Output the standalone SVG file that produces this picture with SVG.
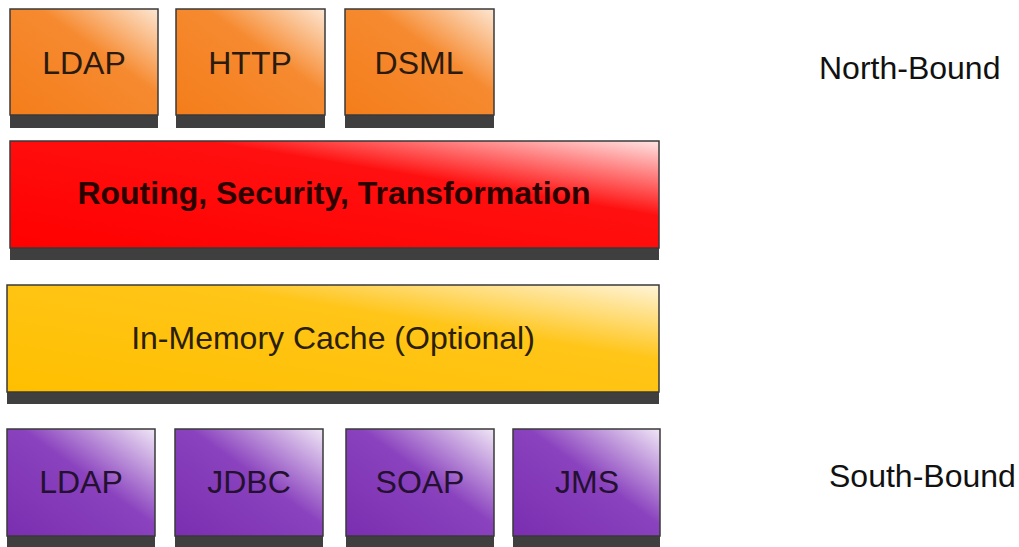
<svg xmlns="http://www.w3.org/2000/svg" width="1019" height="547" viewBox="0 0 1019 547">
<defs>
<linearGradient id="gO" x1="0" y1="1" x2="1" y2="0">
<stop offset="0" stop-color="#f47d1a"/><stop offset="0.6" stop-color="#f68a30"/><stop offset="1" stop-color="#fde6d2"/>
</linearGradient>
<linearGradient id="gR" x1="0" y1="1" x2="1" y2="0">
<stop offset="0" stop-color="#ff0000"/><stop offset="0.65" stop-color="#ff1010"/><stop offset="1" stop-color="#ffe4e4"/>
</linearGradient>
<linearGradient id="gY" x1="0" y1="1" x2="1" y2="0">
<stop offset="0" stop-color="#ffbf00"/><stop offset="0.65" stop-color="#ffc518"/><stop offset="1" stop-color="#fff4d8"/>
</linearGradient>
<linearGradient id="gP" x1="0" y1="1" x2="1" y2="0">
<stop offset="0" stop-color="#7a2eb0"/><stop offset="0.55" stop-color="#8a42be"/><stop offset="1" stop-color="#f0e6f6"/>
</linearGradient>
</defs>
<style>
.sh{fill:#3f3f3f}
.bx{stroke:#3a3a3a;stroke-width:1.5}
.t{font-family:"Liberation Sans",Arial,sans-serif;font-size:32px;text-anchor:middle;fill:#2a1a10}
.tb{font-family:"Liberation Sans",Arial,sans-serif;font-size:32px;font-weight:bold;text-anchor:middle;fill:#2a0000}
.tc{font-family:"Liberation Sans",Arial,sans-serif;font-size:32px;text-anchor:middle;fill:#2a2000}
.tp{font-family:"Liberation Sans",Arial,sans-serif;font-size:32px;text-anchor:middle;fill:#241030}
.lab{font-family:"Liberation Sans",Arial,sans-serif;font-size:32px;fill:#111}
</style>
<g id="nb-ldap"><rect class="sh" x="10" y="112" width="148" height="16"/><rect class="bx" x="10" y="9" width="148" height="106" fill="url(#gO)"/><text class="t" x="84" y="74">LDAP</text></g>
<g id="nb-http"><rect class="sh" x="176" y="112" width="149" height="16"/><rect class="bx" x="176" y="9" width="149" height="106" fill="url(#gO)"/><text class="t" x="250" y="74">HTTP</text></g>
<g id="nb-dsml"><rect class="sh" x="345" y="112" width="149" height="16"/><rect class="bx" x="345" y="9" width="149" height="106" fill="url(#gO)"/><text class="t" x="419" y="74">DSML</text></g>
<g id="routing"><rect class="sh" x="10" y="244" width="649" height="16"/><rect class="bx" x="10" y="141" width="649" height="107" fill="url(#gR)"/><text class="tb" x="334" y="204">Routing, Security, Transformation</text></g>
<g id="cache"><rect class="sh" x="7" y="388" width="652" height="16"/><rect class="bx" x="7" y="285" width="652" height="107" fill="url(#gY)"/><text class="tc" x="333" y="349">In-Memory Cache (Optional)</text></g>
<g id="sb-ldap"><rect class="sh" x="7" y="532" width="148" height="16"/><rect class="bx" x="7" y="429" width="148" height="107" fill="url(#gP)"/><text class="tp" x="81" y="493">LDAP</text></g>
<g id="sb-jdbc"><rect class="sh" x="175" y="532" width="148" height="16"/><rect class="bx" x="175" y="429" width="148" height="107" fill="url(#gP)"/><text class="tp" x="249" y="493">JDBC</text></g>
<g id="sb-soap"><rect class="sh" x="346" y="532" width="148" height="16"/><rect class="bx" x="346" y="429" width="148" height="107" fill="url(#gP)"/><text class="tp" x="420" y="493">SOAP</text></g>
<g id="sb-jms"><rect class="sh" x="513" y="532" width="147" height="16"/><rect class="bx" x="513" y="429" width="147" height="107" fill="url(#gP)"/><text class="tp" x="587" y="493">JMS</text></g>
<g id="labels"><text class="lab" x="819" y="79">North-Bound</text><text class="lab" x="829" y="487">South-Bound</text></g>
<g id="connectors"/>
</svg>
